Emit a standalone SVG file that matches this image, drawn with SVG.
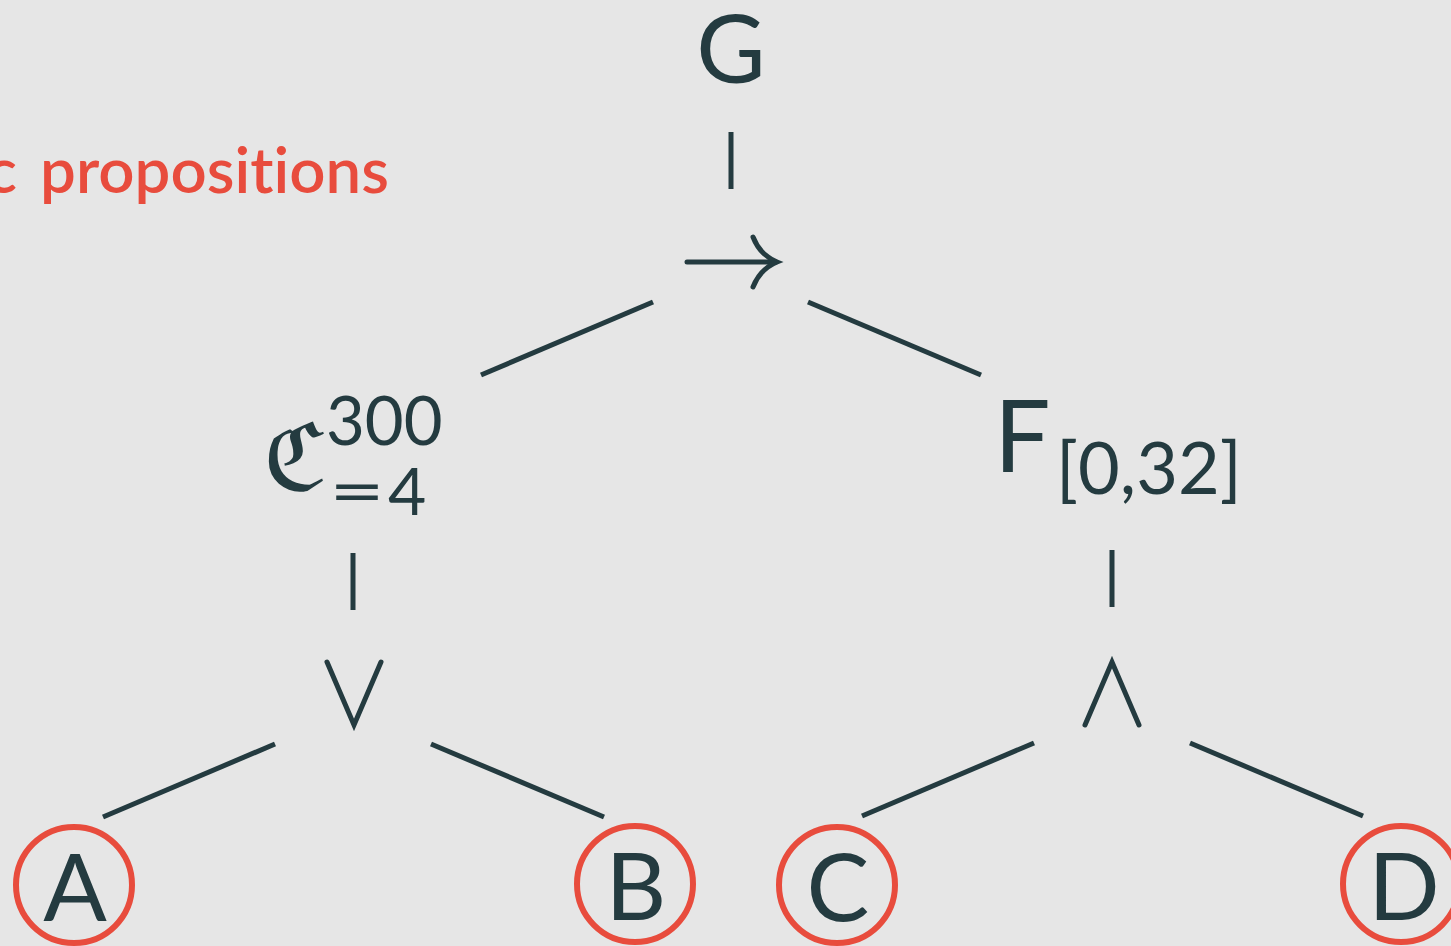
<svg xmlns="http://www.w3.org/2000/svg" width="1451" height="946" viewBox="0 0 1451 946">
  <style>
    .sym { font-family: "Lato", "DejaVu Sans", sans-serif; font-weight: 400; fill: #243b40; }
    .edge { stroke: #243b40; stroke-width: 5; stroke-linecap: butt; fill: none; }
    .op { stroke: #243b40; stroke-width: 5; stroke-linecap: round; stroke-linejoin: miter; fill: none; }
    .prop { fill: none; stroke: #e84c3d; stroke-width: 6; }
    .title { font-family: "Lato", "Noto Sans", sans-serif; font-weight: 600; fill: #e84c3d; font-variant-ligatures: none; }
  </style>
  <rect width="1451" height="946" fill="#e6e6e6"/>

  <!-- heading, running off the left edge -->
  <text class="title" x="17" y="193" font-size="64" text-anchor="end">c</text>
  <text class="title" x="40" y="193" font-size="64" textLength="349" lengthAdjust="spacingAndGlyphs">propositions</text>

  <g id="connectors">
    <line class="edge" x1="731" y1="132" x2="731" y2="189"/>
    <line class="edge" x1="653" y1="302" x2="481" y2="375"/>
    <line class="edge" x1="808" y1="302" x2="981" y2="375"/>
    <line class="edge" x1="353" y1="553" x2="353" y2="610"/>
    <line class="edge" x1="275" y1="744" x2="103" y2="817"/>
    <line class="edge" x1="431" y1="744" x2="604" y2="817"/>
    <line class="edge" x1="1112" y1="550" x2="1112" y2="607"/>
    <line class="edge" x1="1034" y1="743" x2="862" y2="816"/>
    <line class="edge" x1="1190" y1="743" x2="1363" y2="816"/>
  </g>

  <g id="node-G">
    <text class="sym" x="731" y="83" font-size="95" text-anchor="middle">G</text>
  </g>

  <!-- implication: shaft with a curved head -->
  <g id="node-implies">
    <line class="op" x1="687" y1="262" x2="776" y2="262"/>
    <path class="op" d="M753,237 Q760,255 777,262 Q760,269 753,287"/>
  </g>

  <g id="node-count">
    <text x="263" y="491" font-size="96" font-family="DejaVu Serif, serif" fill="#243b40">ℭ</text>
    <text class="sym" x="326" y="445" font-size="67">300</text>
    <text class="sym" x="329" y="515" font-size="66" textLength="56" lengthAdjust="spacingAndGlyphs">=</text>
    <text class="sym" x="388" y="515" font-size="66">4</text>
  </g>

  <g id="node-eventually">
    <text class="sym" x="994" y="472" font-size="100">F</text>
    <text class="sym" x="1056" y="494" font-size="72">[0,32]</text>
  </g>

  <!-- disjunction -->
  <g id="node-or">
    <polyline class="op" points="327,662 354,725 381,662"/>
  </g>

  <!-- conjunction -->
  <g id="node-and">
    <polyline class="op" points="1085,725 1112,662 1139,725"/>
  </g>

  <g id="node-A">
    <circle class="prop" cx="74" cy="885" r="58"/>
    <text class="sym" x="75" y="921" font-size="94" text-anchor="middle">A</text>
  </g>
  <g id="node-B">
    <circle class="prop" cx="635" cy="884" r="58"/>
    <text class="sym" x="636" y="920" font-size="94" text-anchor="middle">B</text>
  </g>
  <g id="node-C">
    <circle class="prop" cx="837" cy="885" r="58"/>
    <text class="sym" x="838" y="921" font-size="94" text-anchor="middle">C</text>
  </g>
  <g id="node-D">
    <circle class="prop" cx="1401" cy="884" r="58"/>
    <text class="sym" x="1404" y="920" font-size="94" text-anchor="middle">D</text>
  </g>
</svg>
